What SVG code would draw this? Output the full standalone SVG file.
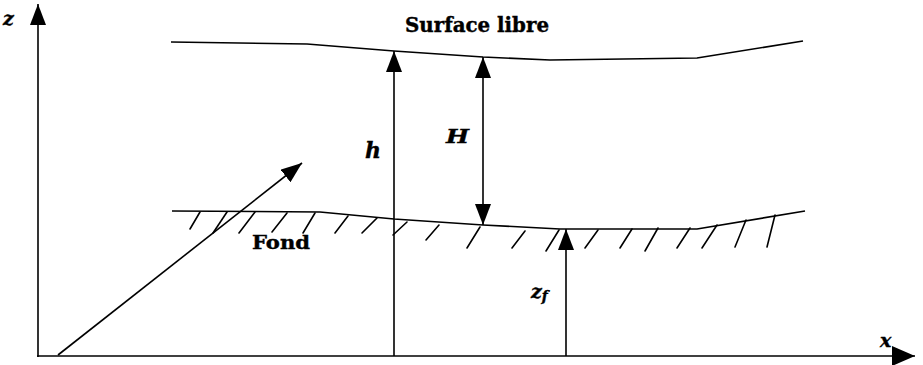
<svg xmlns="http://www.w3.org/2000/svg" width="923" height="365" viewBox="0 0 923 365">
<style>
.ln{fill:none;stroke:#000;stroke-width:1.6;stroke-linejoin:round}
.hatch{fill:none;stroke:#000;stroke-width:1.6;stroke-linecap:round}
.lbl{font-family:"DejaVu Serif","Liberation Serif",serif;font-weight:bold;fill:#000;stroke:#000;stroke-width:0.4}
.var{font-family:"DejaVu Serif","Liberation Serif",serif;font-weight:bold;font-style:italic;fill:#000;stroke:#000;stroke-width:0.4}
</style>
<defs>
<marker id="ah" markerUnits="userSpaceOnUse" viewBox="0 0 21 16" refX="21" refY="8" markerWidth="21" markerHeight="16" orient="auto-start-reverse">
<path d="M0,0 L21,8 L0,16 z" fill="#000"/>
</marker>
<marker id="ahx" markerUnits="userSpaceOnUse" viewBox="0 0 23 20" refX="23" refY="10" markerWidth="23" markerHeight="20" orient="auto">
<path d="M0,0 L23,10 L0,20 z" fill="#000"/>
</marker>
</defs>
<rect width="923" height="365" fill="#fff"/>

<g id="axes">
<line class="ln" x1="38" y1="357" x2="38" y2="4" marker-end="url(#ah)"/>
<line class="ln" x1="37" y1="356" x2="915" y2="356" marker-end="url(#ahx)"/>
<text class="var" x="3" y="25" font-size="19">z</text>
<text class="var" x="880" y="347" font-size="19">x</text>
</g>

<g id="surface">
<polyline class="ln" points="171,42 307,44 394,51 483,57 550,60 697,58 803,41"/>
<text class="lbl" x="405" y="32" font-size="20" textLength="144" lengthAdjust="spacingAndGlyphs">Surface libre</text>
</g>

<g id="fond">
<polyline class="ln" points="172,211 320,212 394,219 483,225 560,229 697,229 805,211"/>
<g class="hatch">
<line x1="190" y1="229" x2="200" y2="212"/>
<line x1="213" y1="233" x2="227" y2="212"/>
<line x1="239" y1="233" x2="255" y2="212"/>
<line x1="272" y1="232" x2="287" y2="213"/>
<line x1="303" y1="233" x2="315" y2="213"/>
<line x1="335" y1="233" x2="348" y2="216"/>
<line x1="362" y1="233" x2="377" y2="218"/>
<line x1="393" y1="235" x2="407" y2="222"/>
<line x1="426" y1="240" x2="439" y2="225"/>
<line x1="467" y1="248" x2="480" y2="227"/>
<line x1="512" y1="248" x2="525" y2="231"/>
<line x1="546" y1="251" x2="559" y2="230"/>
<line x1="585" y1="248" x2="598" y2="230"/>
<line x1="620" y1="248" x2="632" y2="229"/>
<line x1="645" y1="251" x2="658" y2="228"/>
<line x1="677" y1="248" x2="690" y2="228"/>
<line x1="702" y1="248" x2="717" y2="225"/>
<line x1="735" y1="247" x2="746" y2="220"/>
<line x1="767" y1="247" x2="775" y2="215"/>
</g>
<text class="lbl" x="252" y="249" font-size="19" textLength="58" lengthAdjust="spacingAndGlyphs">Fond</text>
</g>

<g id="connectors">
<line class="ln" x1="58" y1="355" x2="302" y2="163" marker-end="url(#ah)"/>
<line class="ln" x1="394" y1="356" x2="394" y2="51" marker-end="url(#ah)"/>
<line class="ln" x1="483" y1="57" x2="483" y2="225" marker-start="url(#ah)" marker-end="url(#ah)"/>
<line class="ln" x1="566" y1="356" x2="566" y2="229" marker-end="url(#ah)"/>
</g>

<g id="labels">
<text class="var" x="365" y="158" font-size="22">h</text>
<text class="var" x="446" y="143" font-size="18" textLength="23" lengthAdjust="spacingAndGlyphs">H</text>
<text class="var" x="531" y="298" font-size="19">z<tspan font-size="14" dy="3">f</tspan></text>
</g>
</svg>
